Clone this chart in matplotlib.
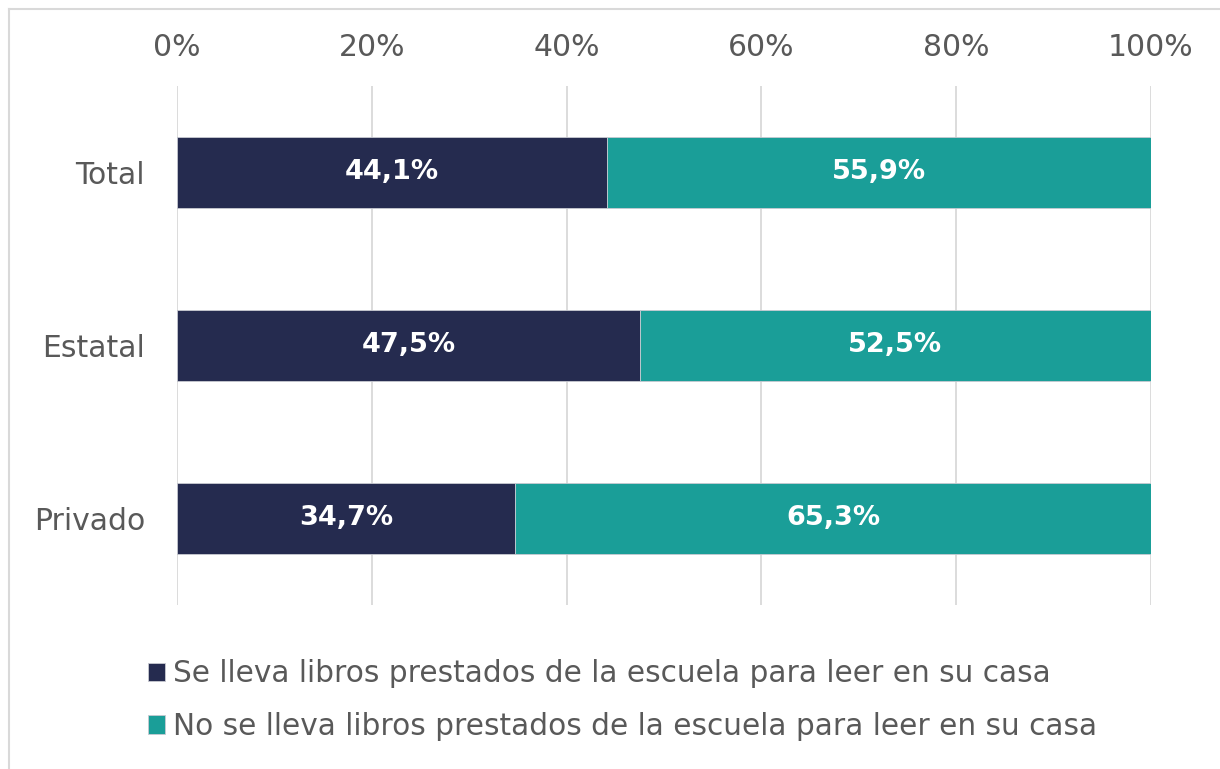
import matplotlib
matplotlib.use("Agg")
from matplotlib import pyplot as plt
from matplotlib.lines import Line2D
import matplotlib.patches as mpatches
import numpy as np

# datos
categorias = ["Total", "Estatal", "Privado"]
se_lleva = [44.1, 47.5, 34.7]
no_se_lleva = [55.9, 52.5, 65.3]
series = ["Se lleva libros prestados de la escuela para leer en su casa",
          "No se lleva libros prestados de la escuela para leer en su casa"]
colores = ["#252B4F", "#1A9E98"]
gris = "#595959"

plt.rcParams['font.family'] = ['DejaVu Sans']

fig = plt.figure(figsize=(12.2, 7.69), dpi=100)
ax = fig.add_axes([0.1451, 0.2133, 0.7983, 0.6749])

ys = np.arange(len(categorias))
ax.barh(ys, se_lleva, height=0.41, color=colores[0], edgecolor="#C8CAD2", linewidth=0.6, zorder=3)
ax.barh(ys, no_se_lleva, left=se_lleva, height=0.41, color=colores[1], edgecolor="#C8CAD2", linewidth=0.6, zorder=3)

for y, a, b in zip(ys, se_lleva, no_se_lleva):
    ax.text(a / 2, y, "{:.1f}%".format(a).replace(".", ","), ha="center", va="center",
            color="white", fontsize=19.5, fontweight="bold", zorder=4)
    ax.text(a + b / 2, y, "{:.1f}%".format(b).replace(".", ","), ha="center", va="center",
            color="white", fontsize=19.5, fontweight="bold", zorder=4)

ax.set_xlim(0, 100)
ax.set_ylim(len(categorias) - 0.5, -0.5)
ax.set_yticks(ys)
ax.set_yticklabels(categorias)
ax.set_xticks(np.arange(0, 101, 20))
ax.set_xticklabels(["{}%".format(x) for x in range(0, 101, 20)])
ax.xaxis.tick_top()
ax.tick_params(axis="both", length=0, labelsize=21.5, labelcolor=gris)
ax.tick_params(axis="y", pad=23)
ax.tick_params(axis="x", pad=17)
ax.grid(axis="x", color="#D9D9D9", linewidth=1.3, zorder=0)
for s in ax.spines.values():
    s.set_visible(False)

handles = [mpatches.Patch(facecolor=c, edgecolor="#C8CAD2", linewidth=0.6) for c in colores]
fig.legend(handles, series, loc="upper left", bbox_to_anchor=(0.1115, 0.158), frameon=False,
           fontsize=21.3, labelcolor=gris, handlelength=0.58, handleheight=0.58,
           handletextpad=0.27, labelspacing=0.8, borderaxespad=0)

# marco
fig.add_artist(Line2D([9 / 1220, 1], [1 - 9 / 769, 1 - 9 / 769], color="#D9D9D9", linewidth=1.5))
fig.add_artist(Line2D([9 / 1220, 9 / 1220], [0, 1 - 9 / 769], color="#D9D9D9", linewidth=1.5))

fig.savefig("out.png", dpi=100)
